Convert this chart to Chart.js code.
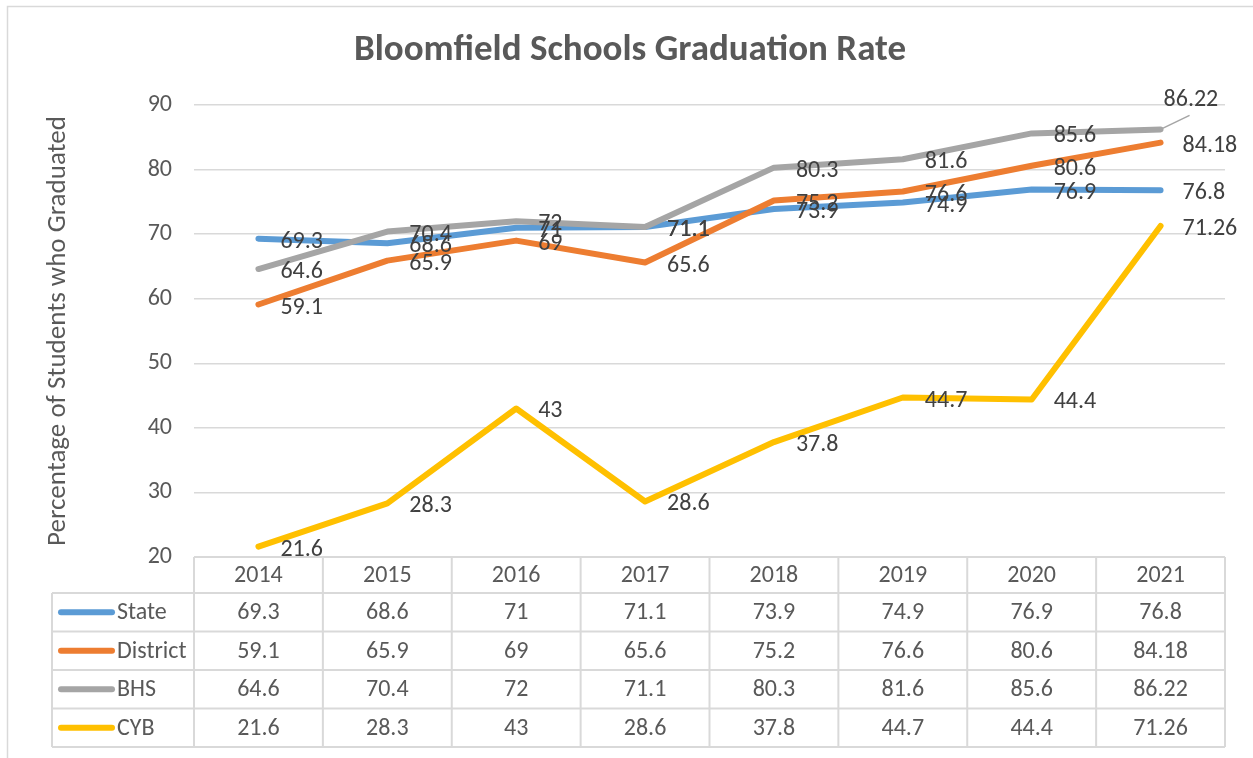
<!DOCTYPE html>
<html>
<head>
<meta charset="utf-8">
<title>Bloomfield Schools Graduation Rate</title>
<script src="https://cdn.jsdelivr.net/npm/chart.js@4/dist/chart.umd.min.js"></script>
<style>
  html, body { margin: 0; padding: 0; background: #fff; }
  #wrap { width: 1253px; height: 758px; }
</style>
</head>
<body>
<div id="wrap"><canvas id="gradChart" width="1253" height="758"></canvas></div>
<script>
const years = ["2014", "2015", "2016", "2017", "2018", "2019", "2020", "2021"];
const seriesNames = ["State", "District", "BHS", "CYB"];
const stateRates = [69.3, 68.6, 71, 71.1, 73.9, 74.9, 76.9, 76.8];
const districtRates = [59.1, 65.9, 69, 65.6, 75.2, 76.6, 80.6, 84.18];
const bhsRates = [64.6, 70.4, 72, 71.1, 80.3, 81.6, 85.6, 86.22];
const cybRates = [21.6, 28.3, 43, 28.6, 37.8, 44.7, 44.4, 71.26];
const yTicks = [20, 30, 40, 50, 60, 70, 80, 90];

(function () {
  const FONT = "Carlito, Calibri, 'Open Sans', sans-serif";
  const TEXT_GRAY = "#595959";
  const LABEL_GRAY = "#404040";
  const LINE_GRAY = "#d9d9d9";
  const colors = ["#5b9bd5", "#ed7d31", "#a5a5a5", "#ffc000"];
  const allRates = [stateRates, districtRates, bhsRates, cybRates];

  // the one label Excel pushed off its point (with a leader line)
  const movedLabels = { "2-7": { dx: 3, dy: -29 } };

  const datasets = seriesNames.map((name, i) => ({
    label: name,
    data: allRates[i],
    borderColor: colors[i],
    backgroundColor: colors[i],
    borderWidth: 6,
    borderCapStyle: "round",
    borderJoinStyle: "round",
    pointRadius: 0,
    tension: 0,
    order: seriesNames.length - i, // later series on top, like Excel
  }));

  // white background, outer chart frame and the title
  const frame = {
    id: "frame",
    beforeDraw(chart) {
      const ctx = chart.ctx;
      ctx.save();
      ctx.fillStyle = "#fff";
      ctx.fillRect(0, 0, chart.width, chart.height);
      ctx.strokeStyle = LINE_GRAY;
      ctx.lineWidth = 1.5;
      ctx.strokeRect(7.5, 6.5, chart.width + 20, chart.height + 20);
      ctx.font = "bold 37px " + FONT;
      ctx.fillStyle = TEXT_GRAY;
      ctx.textAlign = "center";
      ctx.textBaseline = "middle";
      ctx.fillText("Bloomfield Schools Graduation Rate", 630, 51);
      ctx.restore();
    },
  };

  // value labels to the right of each point
  const valueLabels = {
    id: "valueLabels",
    afterDatasetsDraw(chart) {
      const ctx = chart.ctx;
      ctx.save();
      ctx.font = "24px " + FONT;
      ctx.fillStyle = LABEL_GRAY;
      ctx.textBaseline = "middle";
      ctx.textAlign = "left";
      chart.data.datasets.forEach((ds, di) => {
        const meta = chart.getDatasetMeta(di);
        meta.data.forEach((pt, pi) => {
          const moved = movedLabels[di + "-" + pi];
          if (moved) {
            ctx.strokeStyle = "#a5a5a5";
            ctx.lineWidth = 1.5;
            ctx.beginPath();
            ctx.moveTo(pt.x + 2, pt.y - 1);
            ctx.lineTo(pt.x + 29, pt.y - 14);
            ctx.stroke();
            ctx.fillText(String(ds.data[pi]), pt.x + moved.dx, pt.y + moved.dy);
          } else {
            ctx.fillText(String(ds.data[pi]), pt.x + 22, pt.y + 3);
          }
        });
      });
      ctx.restore();
    },
  };

  // Excel-style data table under the plot
  const dataTable = {
    id: "dataTable",
    afterDraw(chart) {
      const ctx = chart.ctx;
      const area = chart.chartArea;
      const xScale = chart.scales.x;
      const colW = (area.right - area.left) / years.length;
      const top = area.bottom;
      const headH = 36;
      const rowH = 38.5;
      const bottom = top + headH + rowH * seriesNames.length;
      const keyLeft = 52;

      ctx.save();
      ctx.strokeStyle = LINE_GRAY;
      ctx.lineWidth = 2;
      ctx.beginPath();
      // header top + vertical column lines
      ctx.moveTo(area.left, top);
      ctx.lineTo(area.right, top);
      for (let c = 0; c <= years.length; c++) {
        const x = area.left + c * colW;
        ctx.moveTo(x, top);
        ctx.lineTo(x, bottom);
      }
      // row lines
      for (let r = 0; r <= seriesNames.length; r++) {
        const y = top + headH + r * rowH;
        ctx.moveTo(keyLeft, y);
        ctx.lineTo(area.right, y);
      }
      ctx.moveTo(keyLeft, top + headH);
      ctx.lineTo(keyLeft, bottom);
      ctx.stroke();

      ctx.font = "24px " + FONT;
      ctx.fillStyle = TEXT_GRAY;
      ctx.textBaseline = "middle";
      ctx.textAlign = "center";
      years.forEach((yr, c) => {
        const cx = xScale.getPixelForValue(c);
        ctx.fillText(yr, cx, top + headH / 2 + 1);
        allRates.forEach((vals, r) => {
          ctx.fillText(String(vals[c]), cx, top + headH + r * rowH + rowH / 2 + 1);
        });
      });

      // legend keys in the row headers
      seriesNames.forEach((name, r) => {
        const cy = top + headH + r * rowH + rowH / 2;
        ctx.strokeStyle = colors[r];
        ctx.lineWidth = 6;
        ctx.lineCap = "round";
        ctx.beginPath();
        ctx.moveTo(61, cy);
        ctx.lineTo(112, cy);
        ctx.stroke();
        ctx.textAlign = "left";
        ctx.fillStyle = TEXT_GRAY;
        ctx.fillText(name, 117, cy + 1);
      });
      ctx.restore();
    },
  };

  const canvas = document.getElementById("gradChart");
  new Chart(canvas.getContext("2d"), {
    type: "line",
    data: { labels: years, datasets: datasets },
    options: {
      responsive: false,
      animation: false,
      devicePixelRatio: 1,
      layout: { padding: { left: 0, right: 28, top: 105, bottom: 201 } },
      plugins: {
        legend: { display: false },
        tooltip: { enabled: false },
        title: { display: false },
      },
      scales: {
        x: {
          type: "category",
          offset: true,
          display: false,
        },
        y: {
          min: yTicks[0],
          max: yTicks[yTicks.length - 1],
          afterBuildTicks(scale) {
            scale.ticks = yTicks.map((v) => ({ value: v }));
          },
          afterFit(scale) {
            scale.width = 194;
          },
          border: { display: false },
          grid: { color: LINE_GRAY, lineWidth: 1.5, drawTicks: false },
          ticks: {
            color: TEXT_GRAY,
            font: { family: FONT, size: 24 },
            padding: 22,
          },
          title: {
            display: true,
            text: "Percentage of Students who Graduated",
            color: TEXT_GRAY,
            font: { family: FONT, size: 27 },
            padding: { top: 42, bottom: 0 },
          },
        },
      },
    },
    plugins: [frame, valueLabels, dataTable],
  });
})();
</script>
</body>
</html>
